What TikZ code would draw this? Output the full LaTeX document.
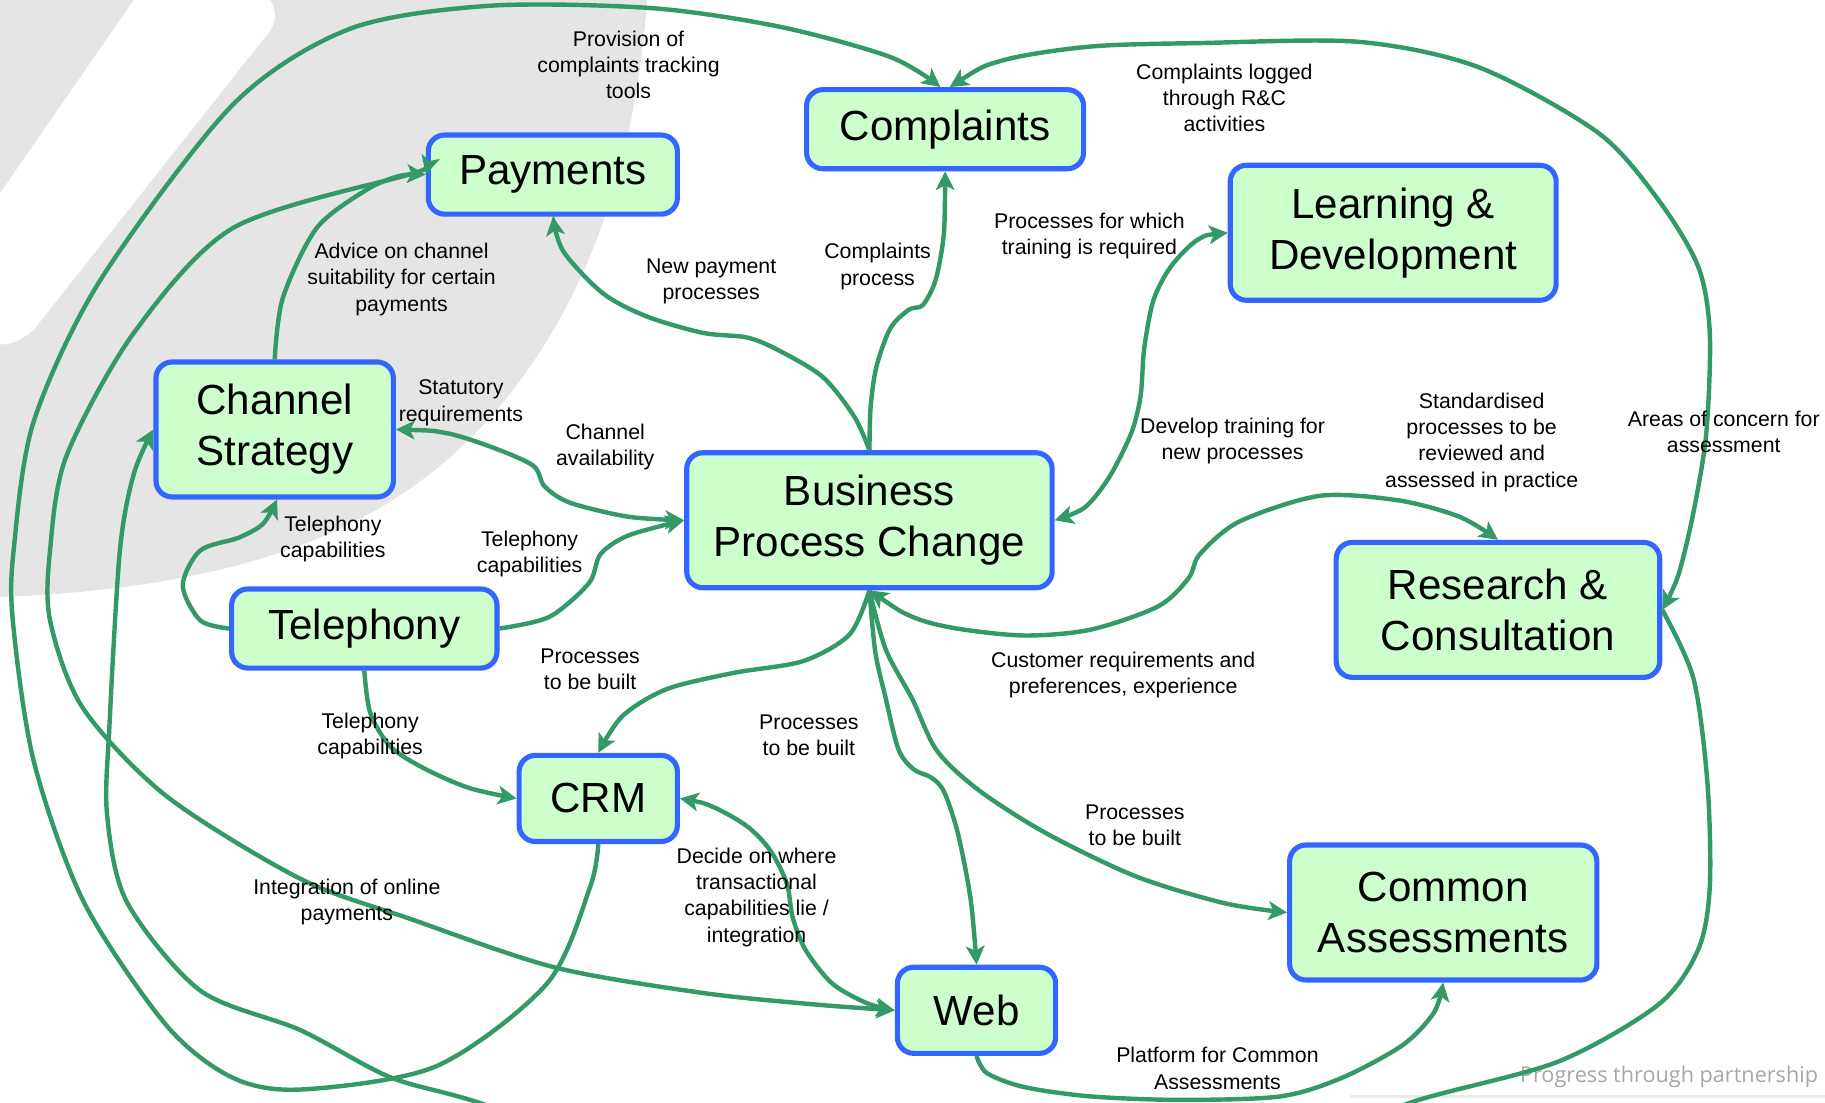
\documentclass[tikz,border=0pt]{standalone}
\usepackage{fontspec}
\setmainfont{Liberation Sans}
\newfontfamily\mottofont{Open Sans}
\usetikzlibrary{arrows.meta}
\definecolor{linkgreen}{RGB}{51,153,102}
\definecolor{boxblue}{RGB}{51,102,255}
\definecolor{boxfill}{RGB}{204,255,204}
\definecolor{wmgray}{RGB}{229,229,229}
\tikzset{
  unit/.style={draw=boxblue, fill=boxfill, line width=2.2pt, rounded corners=7pt,
    align=center, inner sep=0pt, font=\fontsize{18.1}{22}\selectfont},
  link/.style={draw=linkgreen, line width=1.9pt, -{Stealth[length=8pt,width=8pt,inset=2pt]}},
  twoway/.style={link, {Stealth[length=8pt,width=8pt,inset=2pt]}-{Stealth[length=8pt,width=8pt,inset=2pt]}},
  note/.style={align=center, font=\fontsize{9.15}{11.25}\selectfont},
}
\begin{document}
\begin{tikzpicture}[x=0.5pt,y=-0.5pt]
    \useasboundingbox (0,0) rectangle (1568,947);
    \clip (0,0) rectangle (1568,947);
    \fill[wmgray] (0,0) -- (556,0) .. controls (545,150) and (500,270) .. (420,360)
        .. controls (330,460) and (200,505) .. (0,513) -- cycle;
    \fill[white] (0,166) -- (115,0) -- (232,0) .. controls (240,12) and (236,24) .. (226,34)
        -- (30,282) .. controls (20,292) and (10,296) .. (0,296) -- cycle;
    \draw[black!8, line width=1pt] (1160,942) -- (1568,942);
    \node[text=black!35, font=\mottofont\fontsize{9.3}{11}\selectfont] (motto) at (1434,925) {Progress through partnership};

    \node[unit, minimum width=119pt, minimum height=34pt] (cmp) at (812,111) {Complaints};
    \node[unit, minimum width=107pt, minimum height=34pt] (pay) at (475,150) {Payments};
    \node[unit, minimum width=140pt, minimum height=58pt] (ld) at (1197,200) {Learning \&\\Development};
    \node[unit, minimum width=102pt, minimum height=58pt] (cs) at (236,369) {Channel\\Strategy};
    \node[unit, minimum width=157pt, minimum height=58pt] (bpc) at (747,447) {Business\\Process Change};
    \node[unit, minimum width=139pt, minimum height=58pt] (rc) at (1287,524) {Research \&\\Consultation};
    \node[unit, minimum width=114pt, minimum height=34pt] (tel) at (313,540) {Telephony};
    \node[unit, minimum width=68pt, minimum height=37pt] (crm) at (514,686) {CRM};
    \node[unit, minimum width=132pt, minimum height=58pt] (ca) at (1240,784) {Common\\Assessments};
    \node[unit, minimum width=68pt, minimum height=37pt] (web) at (839,868) {Web};

    \draw[link] plot[smooth] coordinates {(crm.south) (507,762) (470,845) (375,916) (260,936) (200,926) (143,881)
        (72,775) (29,654) (11,533) (12,470) (29,362) (86,241) (200,90) (300,25) (420,5) (560,7) (670,23) (765,49)
        ([xshift=-2pt]cmp.north)};
    \draw[twoway] plot[smooth] coordinates {(pay.west) (344,152) (200,196) (115,286) (57,392) (43,473) (43,533)
        (71,608) (143,684) (258,755) (354,790) (476,831) (603,853) (700,863) (web.west)};
    \draw[link] plot[smooth] coordinates {(cs.north) (243,256) (272,196) (315,163) (344,151) (pay.west)};
    \draw[link] plot[smooth] coordinates {(rc.east) (1455,583) (1467,673) (1469,762) (1459,816) (1425,863)
        (1339,912) (1219,945) (1100,985) (800,1010) (550,990) (404,945) (334,925) (258,885) (172,851) (109,775)
        (92,700) (94,624) (103,473) (115,407) (cs.west)};
    \draw[twoway] plot[smooth] coordinates {([xshift=2pt]cmp.north) (861,52) (937,40) (1031,37) (1168,36) (1271,58)
        (1373,114) (1425,172) (1459,229) (1469,286) (1466,372) (1455,440) (1442,494) (rc.east)};
    \draw[link] plot[smooth] coordinates {(tel.west) (172,533) (157,503) (172,473) (205,462) (226,450)
        ([xshift=1pt]cs.south)};
    \draw[link] plot[smooth] coordinates {(tel.east) (472,530) (506,501) (516,476) (540,460) (bpc.west)};
    \draw[twoway] plot[smooth] coordinates {(cs.east) (383,372) (422,384) (458,400) (468,418) (490,432) (540,444)
        (bpc.west)};
    \draw[link] plot[smooth] coordinates {(tel.south) (318,612) (335,641) (364,660) (403,677) (crm.west)};
    \draw[link] plot[smooth] coordinates {(bpc.south) (730,545) (690,568) (631,578) (573,592) (535,615) (crm.north)};
    \draw[link] plot[smooth] coordinates {(bpc.south) (752,560) (761,600) (772,644) (785,661) (800,668) (811,680)
        (823,716) (834,773) (web.north)};
    \draw[link] plot[smooth] coordinates {(bpc.south) (761,558) (784,601) (805,645) (841,679) (899,716) (976,753)
        (1052,776) (ca.west)};
    \draw[twoway] plot[smooth] coordinates {(bpc.south) (784,530) (822,540) (880,546) (937,541) (995,521) (1021,497)
        (1031,476) (1065,448) (1134,426) (1202,430) (1254,444) (rc.north)};
    \draw[link] plot[smooth] coordinates {(bpc.north) (734,358) (707,324) (669,301) (642,290) (604,286) (556,272)
        (518,252) (484,216) (pay.south)};
    \draw[link] plot[smooth] coordinates {(bpc.north) (748,350) (753,315) (765,282) (781,266) (793,262) (804,240)
        (811,200) (cmp.south)};
    \draw[twoway] plot[smooth] coordinates {(ld.west) (1029,206) (1006,229) (991,258) (983,300) (980,340) (972,372)
        (953,410) (932,436) (bpc.east)};
    \draw[twoway] plot[smooth] coordinates {(crm.east) (612,693) (642,710) (662,731) (676,759) (681,788) (692,816)
        (715,845) (745,862) (web.west)};
    \draw[link] plot[smooth] coordinates {(web.south) (848,922) (880,934) (937,942) (1014,945) (1100,942) (1153,926)
        (1205,898) (1232,870) (ca.south)};

    \node[note] (tools) at (540,56) {Provision of\\complaints tracking\\tools};
    \node[note] (logged) at (1052,84) {Complaints logged\\through R\&C\\activities};
    \node[note] (advice) at (345,240) {Advice on channel\\suitability for certain\\payments};
    \node[note] (newpay) at (611,242) {New payment\\processes};
    \node[note] (cmpproc) at (754,229) {Complaints\\process};
    \node[note] (trainreq) at (936,203) {Processes for which\\training is required};
    \node[note] (statutory) at (396,346) {Statutory\\requirements};
    \node[note] (avail) at (520,384) {Channel\\availability};
    \node[note] (develop) at (1059,379) {Develop training for\\new processes};
    \node[note] (standard) at (1273,380) {Standardised\\processes to be\\reviewed and\\assessed in practice};
    \node[note] (concern) at (1481,371) {Areas of concern for\\assessment};
    \node[note] (telcs) at (286,463) {Telephony\\capabilities};
    \node[note] (telbpc) at (455,476) {Telephony\\capabilities};
    \node[note] (buildcrm) at (507,575) {Processes\\to be built};
    \node[note] (customer) at (965,580) {Customer requirements and\\preferences, experience};
    \node[note] (telcrm) at (318,632) {Telephony\\capabilities};
    \node[note] (buildweb) at (695,632) {Processes\\to be built};
    \node[note] (buildca) at (975,709) {Processes\\to be built};
    \node[note] (decide) at (650,771) {Decide on where\\transactional\\capabilities lie /\\integration};
    \node[note] (online) at (298,775) {Integration of online\\payments};
    \node[note] (platform) at (1046,918) {Platform for Common\\Assessments};
\end{tikzpicture}
\end{document}
